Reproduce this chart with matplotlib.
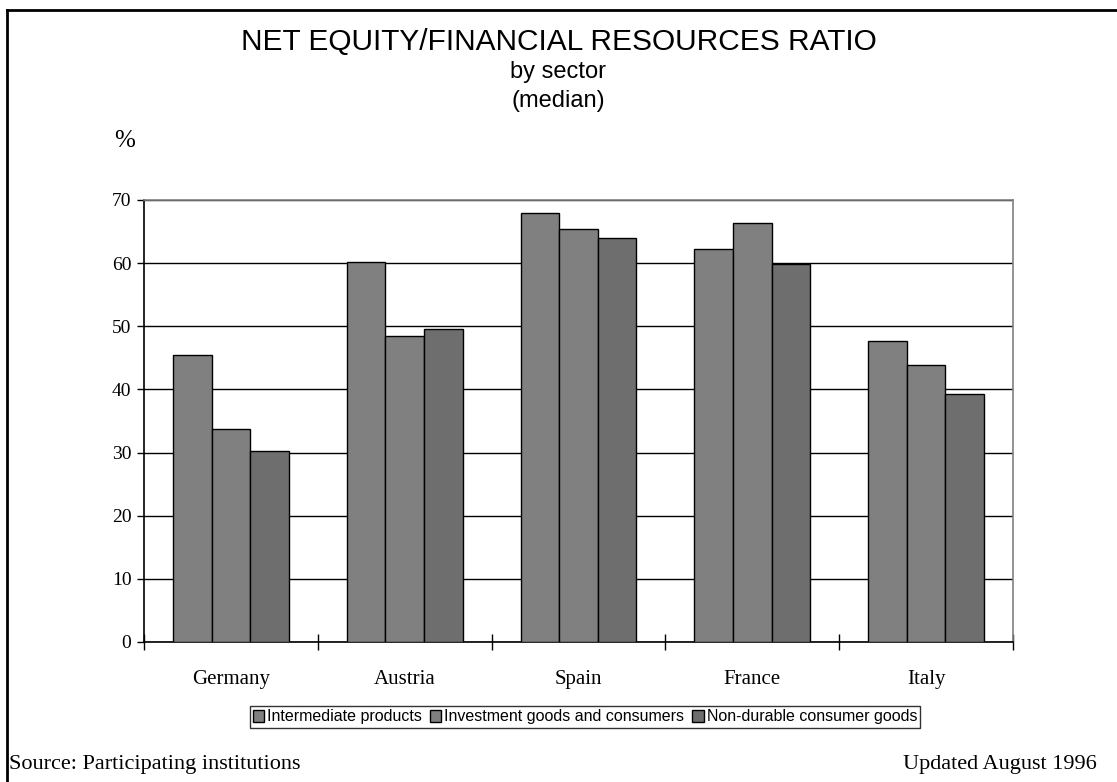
import numpy as np
import matplotlib.pyplot as plt
from matplotlib.lines import Line2D

countries = ['Germany', 'Austria', 'Spain', 'France', 'Italy']
series_names = ['Intermediate products', 'Investment goods and consumers',
                'Non-durable consumer goods']
intermediate = [45.5, 60.2, 68.0, 62.3, 47.7]
investment = [33.8, 48.4, 65.4, 66.4, 43.9]
non_durable = [30.2, 49.6, 64.0, 59.8, 39.2]
y_ticks = [0, 10, 20, 30, 40, 50, 60, 70]

W, H = 1117, 782
fig = plt.figure(figsize=(W / 100, H / 100), dpi=100)
ax = fig.add_axes([144 / W, 1 - 642 / H, (1013 - 144) / W, (642 - 200) / H])

x = np.arange(len(countries))
bw = 0.222
colors = ['#808080', '#808080', '#6e6e6e']
for i, (vals, col, name) in enumerate(zip([intermediate, investment, non_durable],
                                           colors, series_names)):
    ax.bar(x + (i - 1) * bw, vals, bw, color=col, edgecolor='black',
           linewidth=1.0, label=name, zorder=3)

ax.set_xlim(-0.5, len(countries) - 0.5)
ax.set_ylim(0, 70)
ax.set_yticks(y_ticks)
ax.yaxis.grid(True, color='black', linewidth=1.0, zorder=0)
ax.set_axisbelow(True)

serif = 'Liberation Serif'
sans = 'Liberation Sans'
ax.set_yticklabels([str(v) for v in y_ticks], fontfamily=serif, fontsize=14)
ax.set_xticks(x)
ax.set_xticklabels(countries, fontfamily=serif, fontsize=15)
ax.tick_params(axis='x', which='major', length=0, pad=20)
ax.set_xticks(np.arange(-0.5, len(countries), 1.0), minor=True)
ax.tick_params(axis='x', which='minor', direction='inout', length=12, width=1)
ax.tick_params(axis='y', direction='out', length=5, width=1, pad=4)

for s in ['top', 'right']:
    ax.spines[s].set_color('#808080')
    ax.spines[s].set_linewidth(1.2)
for s in ['left', 'bottom']:
    ax.spines[s].set_color('black')
    ax.spines[s].set_linewidth(1.2)

fig.text(0.5, 1 - 42 / H, 'NET EQUITY/FINANCIAL RESOURCES RATIO', ha='center',
         va='center', fontfamily=sans, fontsize=21.5)
fig.text(0.5, 1 - 72 / H, 'by sector', ha='center', va='center',
         fontfamily=sans, fontsize=17)
fig.text(0.5, 1 - 101 / H, '(median)', ha='center', va='center',
         fontfamily=sans, fontsize=17)
fig.text(125 / W, 1 - 141 / H, '%', ha='center', va='center',
         fontfamily=serif, fontsize=18)

leg = fig.legend(loc='center', bbox_to_anchor=(585 / W, 1 - 717 / H), ncol=3,
                 prop={'family': sans, 'size': 11.5}, frameon=True, fancybox=False,
                 handlelength=0.7, handleheight=0.7, handletextpad=0.2,
                 columnspacing=0.5, borderpad=0.2, borderaxespad=0)
leg.get_frame().set_edgecolor('black')
leg.get_frame().set_linewidth(1.0)

fig.text(9 / W, 1 - 765 / H, 'Source: Participating institutions', ha='left',
         va='center', fontfamily=serif, fontsize=16)
fig.text(1097 / W, 1 - 765 / H, 'Updated August 1996', ha='right',
         va='center', fontfamily=serif, fontsize=16)

fig.add_artist(Line2D([7 / W, 1], [1 - 10 / H, 1 - 10 / H], color='black',
                      linewidth=2, transform=fig.transFigure))
fig.add_artist(Line2D([7 / W, 7 / W], [0, 1 - 10 / H], color='black',
                      linewidth=2, transform=fig.transFigure))

fig.savefig('out.png', dpi=100)
